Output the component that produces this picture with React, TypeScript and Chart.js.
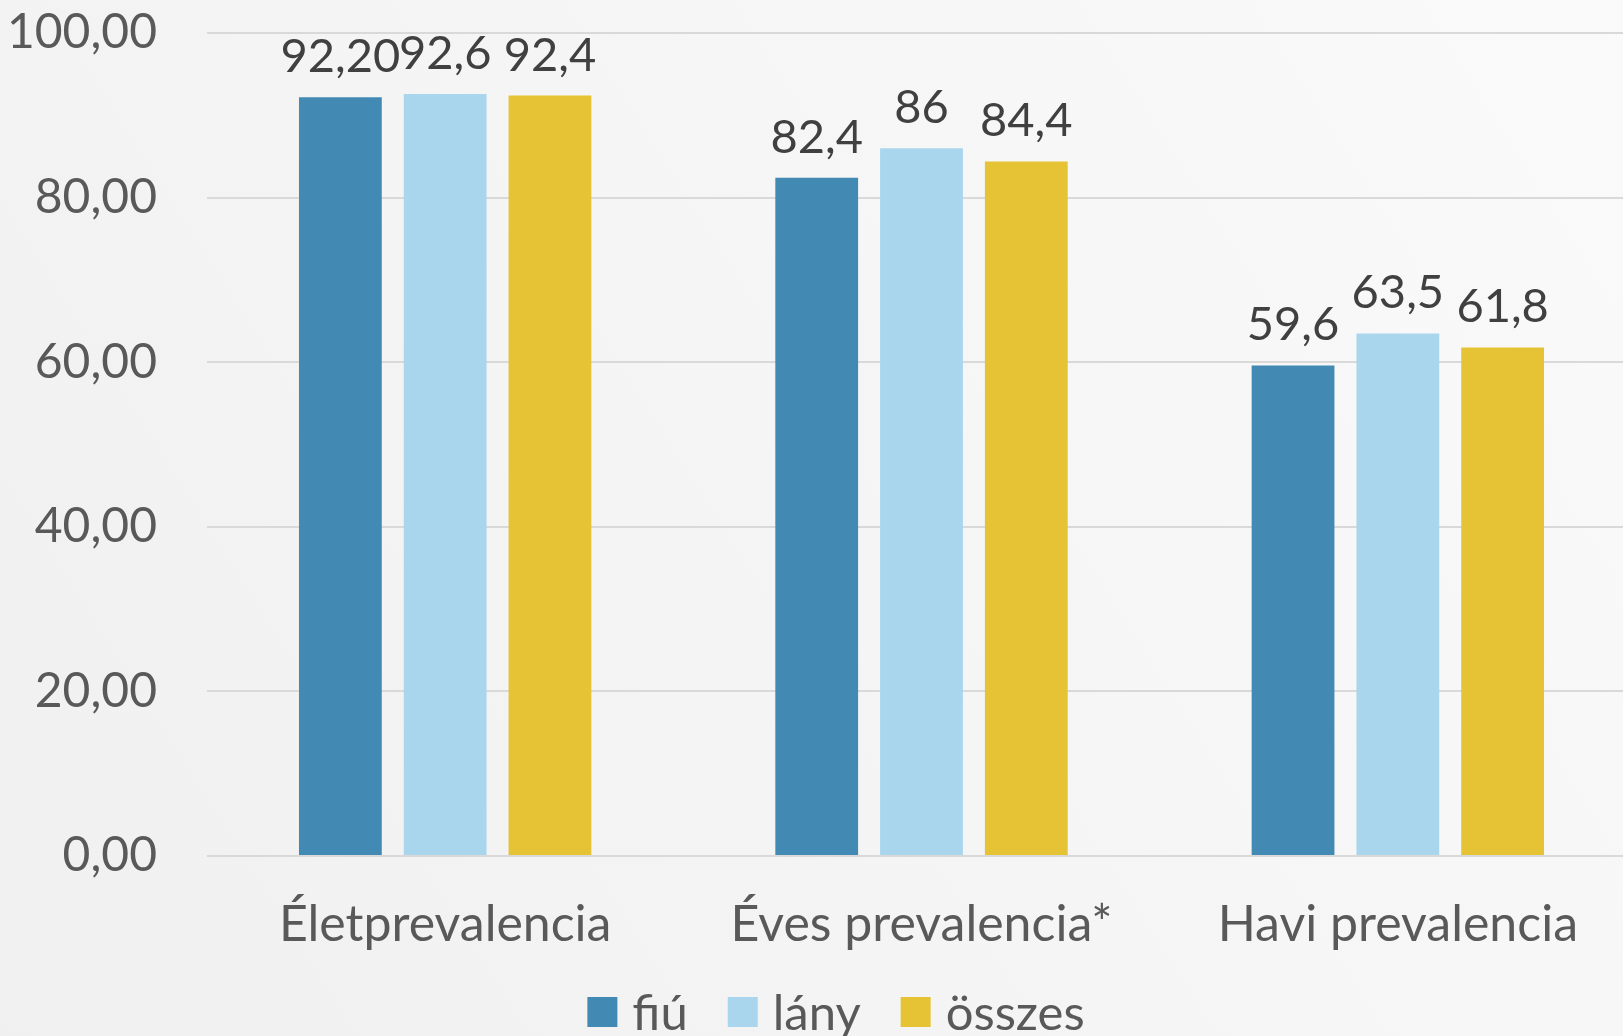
import React, { useEffect, useRef } from "react";
import { Chart, registerables } from "chart.js";

Chart.register(...registerables);

const categories = ["Életprevalencia", "Éves prevalencia*", "Havi prevalencia"];
const fiuValues = [92.2, 82.4, 59.6];
const lanyValues = [92.6, 86, 63.5];
const osszesValues = [92.4, 84.4, 61.8];
const fiuLabels = ["92,20", "82,4", "59,6"];
const lanyLabels = ["92,6", "86", "63,5"];
const osszesLabels = ["92,4", "84,4", "61,8"];
const seriesNames = ["fiú", "lány", "összes"];
const seriesColors = ["#428ab4", "#a9d6ec", "#e5c335"];
const yTicks = [0, 20, 40, 60, 80, 100];

const FONT = "Lato, 'Open Sans', sans-serif";
const CANVAS_W = 1636;

export default function App() {
  const ref = useRef<HTMLCanvasElement | null>(null);

  useEffect(() => {
    document.body.style.margin = "0";
    const canvas = ref.current;
    if (!canvas) return;
    const labelSets = [fiuLabels, lanyLabels, osszesLabels];

    const bgPlugin = {
      id: "bg",
      beforeDraw(chart: any) {
        const { ctx, width, height } = chart;
        const g = ctx.createLinearGradient(0, height, width, 0);
        g.addColorStop(0, "#f0f0f0");
        g.addColorStop(1, "#fafafa");
        ctx.save();
        ctx.fillStyle = g;
        ctx.fillRect(0, 0, width, height);
        ctx.restore();
      },
    };

    const labelPlugin = {
      id: "valueLabels",
      afterDatasetsDraw(chart: any) {
        const { ctx } = chart;
        ctx.save();
        ctx.font = `47px ${FONT}`;
        ctx.fillStyle = "#404040";
        ctx.textAlign = "center";
        ctx.textBaseline = "alphabetic";
        chart.data.datasets.forEach((ds: any, i: number) => {
          const meta = chart.getDatasetMeta(i);
          meta.data.forEach((bar: any, j: number) => {
            ctx.fillText(labelSets[i][j], bar.x, bar.y - 25);
          });
        });
        ctx.restore();
      },
    };

    const legendPlugin = {
      id: "customLegend",
      afterDraw(chart: any) {
        const { ctx } = chart;
        ctx.save();
        ctx.font = `49px ${FONT}`;
        const box = 30;
        const gapBoxText = 15;
        const gapItems = 40;
        const widths = seriesNames.map((n) => ctx.measureText(n).width);
        const total =
          widths.reduce((a, w) => a + box + gapBoxText + w, 0) + gapItems * (seriesNames.length - 1);
        let x = 836 - total / 2;
        const boxCenterY = 1012;
        ctx.textBaseline = "middle";
        ctx.textAlign = "left";
        seriesNames.forEach((n, i) => {
          ctx.fillStyle = seriesColors[i];
          ctx.fillRect(x, boxCenterY - box / 2, box, box);
          x += box + gapBoxText;
          ctx.fillStyle = "#595959";
          ctx.fillText(n, x, boxCenterY + 2);
          x += widths[i] + gapItems;
        });
        ctx.restore();
      },
    };

    const chart = new Chart(canvas, {
      type: "bar",
      data: {
        labels: categories,
        datasets: seriesNames.map((name, i) => ({
          label: name,
          data: [fiuValues, lanyValues, osszesValues][i],
          backgroundColor: seriesColors[i],
        })),
      },
      options: {
        animation: false,
        responsive: false,
        maintainAspectRatio: false,
        layout: { padding: { top: 33, right: 0, left: 0, bottom: 70 } },
        datasets: {
          bar: { barPercentage: 0.79, categoryPercentage: 0.66 },
        } as any,
        plugins: {
          legend: { display: false },
          tooltip: { enabled: false },
        },
        scales: {
          x: {
            grid: { display: false },
            border: { display: false },
            ticks: { font: { family: FONT, size: 50 }, color: "#595959", padding: 31 },
            afterFit(scale: any) {
              scale.height = 110;
              scale.paddingLeft = 0;
              scale.paddingRight = 0;
            },
          },
          y: {
            min: 0,
            max: 100,
            afterBuildTicks(scale: any) {
              scale.ticks = yTicks.map((v) => ({ value: v }));
            },
            grid: { color: "#d9d9d9", lineWidth: 2, drawTicks: false },
            border: { display: false },
            ticks: {
              font: { family: FONT, size: 48 },
              color: "#595959",
              padding: 50,
              callback: (v: any) => Number(v).toFixed(2).replace(".", ","),
            },
            afterFit(scale: any) {
              scale.width = 207;
              scale.paddingTop = 0;
              scale.paddingBottom = 0;
            },
          },
        },
      },
      plugins: [bgPlugin, labelPlugin, legendPlugin],
    });
    return () => chart.destroy();
  }, []);

  return (
    <div style={{ width: 1623, height: 1036, overflow: "hidden" }}>
      <canvas ref={ref} width={CANVAS_W} height={1036} style={{ display: "block" }} />
    </div>
  );
}
